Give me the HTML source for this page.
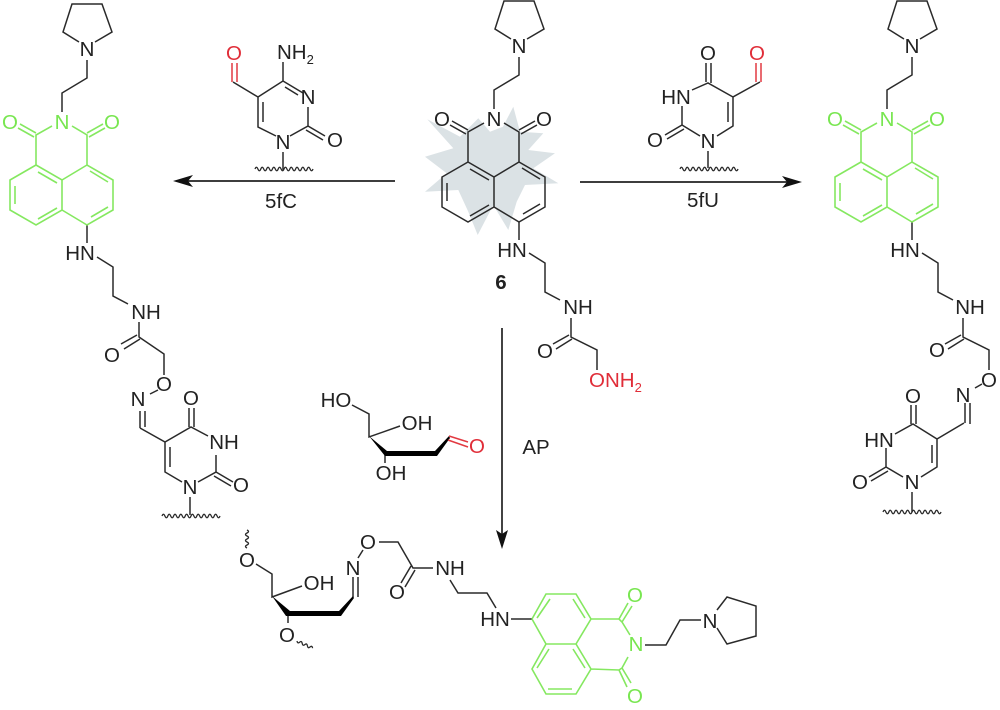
<!DOCTYPE html>
<html><head><meta charset="utf-8"><style>
html,body{margin:0;padding:0;background:#fff}
svg{display:block}
text{font-family:"Liberation Sans",sans-serif;font-size:20.5px;fill:#222;text-anchor:middle}
.l{fill:none;stroke:#2a2a2a;stroke-width:1.5}
.g{fill:none;stroke:#85e860;stroke-width:1.6}
.r{fill:none;stroke:#e23a42;stroke-width:1.5}
.gt{fill:#78e650}
.rt{fill:#e02d38}
.s{fill:none;stroke:#2a2a2a;stroke-width:1.3}
</style></head><body>
<svg width="1000" height="710" viewBox="0 0 1000 710" xmlns="http://www.w3.org/2000/svg">
<rect width="1000" height="710" fill="#fff"/>

<!-- Star -->
<polygon fill="#dbe2e5" points="427.3,119.3 460,136.7 478.3,118.3 490,131.7 503,126.7 513.3,106.7 520,131.7 543.3,133.3 528.3,150 555,153.3 533.3,168.3 558.3,183.3 525,185 516.7,201.7 508.3,230 493.3,205 477.7,235 468.3,211.7 458.3,190 425,191.7 446.7,173.3 425,156.7 453.3,148.3"/>

<!-- Left scaffold -->
<g>
<path class="l" d="M79 42L63 32L72 4H102L112 32L95 42M87 60V78L62 93V112M87 225V243"/>
<text x="87" y="56">N</text><text x="80" y="260">HN</text>
<path class="g" d="M52 126L36 135V165M72 126L87 135V165M20 124L36 133M18 128L34 137M87 133L103 124M89 137L105 128M36 165L62 180L87 165L113 180V210L87 225L62 210L36 225L10 210V180L36 165M62 180V210M38 172L57 183M15 186V204M38 219L57 208M90 171L108 182M108 207L91 217"/>
<text class="gt" x="62" y="129">N</text><text class="gt" x="10" y="129">O</text><text class="gt" x="112" y="129">O</text>
</g>

<!-- Center scaffold -->
<g transform="translate(432,-3)">
<path class="l" d="M79 42L63 32L72 4H102L112 32L95 42M87 60V78L62 93V112M87 225V243"/>
<text x="87" y="56">N</text><text x="80" y="260">HN</text>
<path class="l" d="M52 126L36 135V165M72 126L87 135V165M20 124L36 133M18 128L34 137M87 133L103 124M89 137L105 128M36 165L62 180L87 165L113 180V210L87 225L62 210L36 225L10 210V180L36 165M62 180V210M38 172L57 183M15 186V204M38 219L57 208M90 171L108 182M108 207L91 217"/>
<text x="62" y="129">N</text><text x="10" y="129">O</text><text x="112" y="129">O</text>
</g>

<!-- Right scaffold -->
<g transform="translate(825,-3)">
<path class="l" d="M79 42L63 32L72 4H102L112 32L95 42M87 60V78L62 93V112M87 225V243"/>
<text x="87" y="56">N</text><text x="80" y="260">HN</text>
<path class="g" d="M52 126L36 135V165M72 126L87 135V165M20 124L36 133M18 128L34 137M87 133L103 124M89 137L105 128M36 165L62 180L87 165L113 180V210L87 225L62 210L36 225L10 210V180L36 165M62 180V210M38 172L57 183M15 186V204M38 219L57 208M90 171L108 182M108 207L91 217"/>
<text class="gt" x="62" y="129">N</text><text class="gt" x="10" y="129">O</text><text class="gt" x="112" y="129">O</text>
</g>

<!-- Left tail -->
<path class="l" d="M97 257L113 267V296L128 304M139 322V337L164 354V375M137 335L121 344M140 339L124 349M150 394L158 390M140 411V428M145 411V427M140 428L165 442L191 427L208 436M165 442V472L182 482M170 447V467M198 482L216 472V455M216 472L233 482M214 476L231 486M189 408V427M194 408V427M190 497V515"/>
<text x="146" y="319">NH</text><text x="112" y="362">O</text><text x="164" y="391">O</text><text x="138" y="406">N</text><text x="191" y="405">O</text><text x="224" y="449">NH</text><text x="190" y="494">N</text><text x="241" y="492">O</text>
<path class="s" d="M162 516q1.4 -3.5 2.9 0t2.9 0t2.9 0t2.9 0t2.9 0t2.9 0t2.9 0t2.9 0t2.9 0t2.9 0t2.9 0t2.9 0t2.9 0t2.9 0t2.9 0t2.9 0t2.9 0t2.9 0t2.9 0t2.9 0"/>

<!-- Center tail -->
<path class="l" d="M529 253L545 263V292L560 300M571 318V337L597 350V370M569 335L553 344M572 339L556 349"/>
<text x="578" y="314">NH</text><text x="545" y="358">O</text>
<text class="rt" x="589" y="387" style="text-anchor:start">ONH<tspan font-size="13" dy="5">2</tspan></text>
<text x="501" y="289" font-weight="bold">6</text>

<!-- Right tail -->
<path class="l" d="M922 253L938 263V292L953 300M963 318V337L989 350V370M961 335L945 344M964 339L948 349M975 388L982 384M965 403V423M970 403V424M964 423L937 439L913 424L895 434M937 439V467L921 477M932 445V463M903 477L886 467V448M886 467L869 477M888 471L871 481M911 405V424M916 405V424M912 492V512"/>
<text x="970" y="314">NH</text><text x="937" y="357">O</text><text x="989" y="387">O</text><text x="963" y="402">N</text><text x="913" y="403">O</text><text x="879" y="447">HN</text><text x="912" y="489">N</text><text x="860" y="489">O</text>
<path class="s" d="M883 512q1.4 -3.5 2.9 0t2.9 0t2.9 0t2.9 0t2.9 0t2.9 0t2.9 0t2.9 0t2.9 0t2.9 0t2.9 0t2.9 0t2.9 0t2.9 0t2.9 0t2.9 0t2.9 0t2.9 0t2.9 0t2.9 0"/>

<!-- 5fC reagent -->
<path class="r" d="M232 63V82M237 63V82"/>
<text class="rt" x="234" y="60">O</text>
<path class="l" d="M233 82L258 97V127L276 136M263 102V122M258 97L283 81V62M283 81L303 93M285 87L298 95M290 136L308 126V107M308 126L325 136M306 130L323 140M283 152V170"/>
<text x="277" y="59" style="text-anchor:start">NH<tspan font-size="13" dy="5">2</tspan></text>
<text x="308" y="104">N</text><text x="283" y="149">N</text><text x="335" y="147">O</text>
<path class="s" d="M255 169q1.4 -3.5 2.9 0t2.9 0t2.9 0t2.9 0t2.9 0t2.9 0t2.9 0t2.9 0t2.9 0t2.9 0t2.9 0t2.9 0t2.9 0t2.9 0t2.9 0t2.9 0t2.9 0t2.9 0t2.9 0t2.9 0"/>

<!-- 5fU reagent -->
<path class="r" d="M756 63V82M761 63V82"/>
<text class="rt" x="757" y="60">O</text>
<path class="l" d="M760 82L733 97V126L717 136M728 102V122M733 97L708 83L692 90M706 63V82M711 63V83M700 136L682 125V106M682 125L665 135M684 129L667 139M708 151V168"/>
<text x="708" y="60">O</text><text x="676" y="104">HN</text><text x="708" y="148">N</text><text x="655" y="147">O</text>
<path class="s" d="M680 169q1.4 -3.5 2.9 0t2.9 0t2.9 0t2.9 0t2.9 0t2.9 0t2.9 0t2.9 0t2.9 0t2.9 0t2.9 0t2.9 0t2.9 0t2.9 0t2.9 0t2.9 0t2.9 0t2.9 0t2.9 0t2.9 0"/>

<!-- Arrows -->
<path d="M395 181H188" stroke="#222" stroke-width="1.7" fill="none"/>
<polygon points="173,181 193,175 188,181 193,187" fill="#111"/>
<text x="281" y="208">5fC</text>
<path d="M580 182H790" stroke="#222" stroke-width="1.7" fill="none"/>
<polygon points="802,182 782,176 787,182 782,188" fill="#111"/>
<text x="703" y="207">5fU</text>
<path d="M502 328V535" stroke="#222" stroke-width="1.7" fill="none"/>
<polygon points="502,549 496,530 502,534 508,530" fill="#111"/>
<text x="536" y="454">AP</text>

<!-- Sugar reagent -->
<path class="l" d="M352 405L369 414V437L400 426M385 455V463"/>
<polygon fill="#000" points="369,436 387,451 435,451 449,436 450,438 437,456 385,456"/>
<path class="r" d="M449 436L468 442M448 440L468 447"/>
<text x="336" y="407">HO</text><text x="417" y="430">OH</text><text x="391" y="480">OH</text>
<text class="rt" x="477" y="453">O</text>

<!-- Bottom product -->
<path class="s" d="M247 548q-3 -1.5 0 -3t0 -3t0 -3t0 -3t0 -3t0 -3"/>
<path class="s" d="M297 641q.5 3 2.6 1.2t2.6 1.2t2.6 1.2t2.6 1.2t2.6 1.2t2.6 1.2"/>
<path class="l" d="M256 564L272 574V597L302 586M288 614V623M353 577V597M358 577V597M358 558L363 550M379 542H398L413 568L433 568M411 566L401 583M415 570L405 587M450 580L458 593H487L496 608M511 619H532"/>
<polygon fill="#000" points="272,596 290,611 339,611 353,596 354,598 341,616 286,616"/>
<text x="247" y="567">O</text><text x="319" y="590">OH</text><text x="287" y="642">O</text><text x="353" y="575">N</text><text x="368" y="549">O</text><text x="397" y="599">O</text><text x="450" y="575">NH</text><text x="495" y="626">HN</text>
<path class="g" d="M532 619L546 594H576L591 619L576 644H546L532 619M546 644L532 669L546 694H576L591 669L576 644M591 619H619L622 622L630 635M591 669L619 670L622 668L628 657M619 619L628 603M622 622L632 606M619 670L627 687M622 668L631 683M537 618L550 599M573 599L585 618M537 668L549 649M573 649L585 668M548 689H572"/>
<text class="gt" x="636" y="651">N</text><text class="gt" x="635" y="602">O</text><text class="gt" x="635" y="703">O</text>
<path class="l" d="M645 645H666L680 620H701M717 610L727 597L756 606V636L727 644L717 628"/>
<text x="710" y="628">N</text>
</svg>
</body></html>
